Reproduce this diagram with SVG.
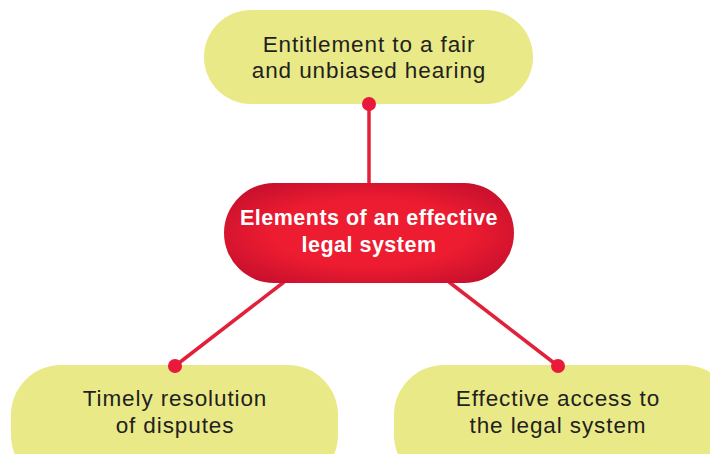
<svg xmlns="http://www.w3.org/2000/svg" width="710" height="454" viewBox="0 0 710 454">
<style>
.leaf{fill:#e9e987;}
.lt{font-family:"Liberation Sans",Arial,sans-serif;font-size:22.5px;letter-spacing:0.9px;fill:#231f20;text-anchor:middle;}
.ct{font-family:"Liberation Sans",Arial,sans-serif;font-size:21.5px;letter-spacing:0.5px;font-weight:bold;fill:#ffffff;text-anchor:middle;}
.conn{stroke:#e2203a;stroke-width:3.5;fill:none;}
.dot{fill:#e8193a;}
</style>
<defs>
<radialGradient id="rg" cx="50%" cy="50%" r="60%">
<stop offset="0.55" stop-color="#ee1c30"/>
<stop offset="1" stop-color="#c8102e"/>
</radialGradient>
</defs>
<rect width="710" height="454" fill="#ffffff"/>
<g id="top">
<rect class="leaf" x="204" y="10" width="329" height="94" rx="47"/>
<text class="lt" x="369" y="52">Entitlement to a fair</text>
<text class="lt" x="369" y="78">and unbiased hearing</text>
</g>
<g id="left">
<rect class="leaf" x="11" y="365" width="327" height="120" rx="50"/>
<text class="lt" x="175" y="406">Timely resolution</text>
<text class="lt" x="175" y="433">of disputes</text>
</g>
<g id="right">
<rect class="leaf" x="394" y="365" width="340" height="120" rx="50"/>
<text class="lt" x="558" y="406">Effective access to</text>
<text class="lt" x="558" y="433">the legal system</text>
</g>
<g id="connectors">
<line class="conn" x1="369" y1="104" x2="369" y2="186"/>
<line class="conn" x1="284" y1="282" x2="175" y2="366"/>
<line class="conn" x1="449" y1="282" x2="558" y2="366"/>
<circle class="dot" cx="369" cy="104" r="7"/>
<circle class="dot" cx="175" cy="366" r="7"/>
<circle class="dot" cx="558" cy="366" r="7"/>
</g>
<g id="center">
<rect x="224" y="183" width="290" height="100" rx="50" fill="url(#rg)"/>
<text class="ct" x="369" y="225">Elements of an effective</text>
<text class="ct" x="369" y="252">legal system</text>
</g>
</svg>
